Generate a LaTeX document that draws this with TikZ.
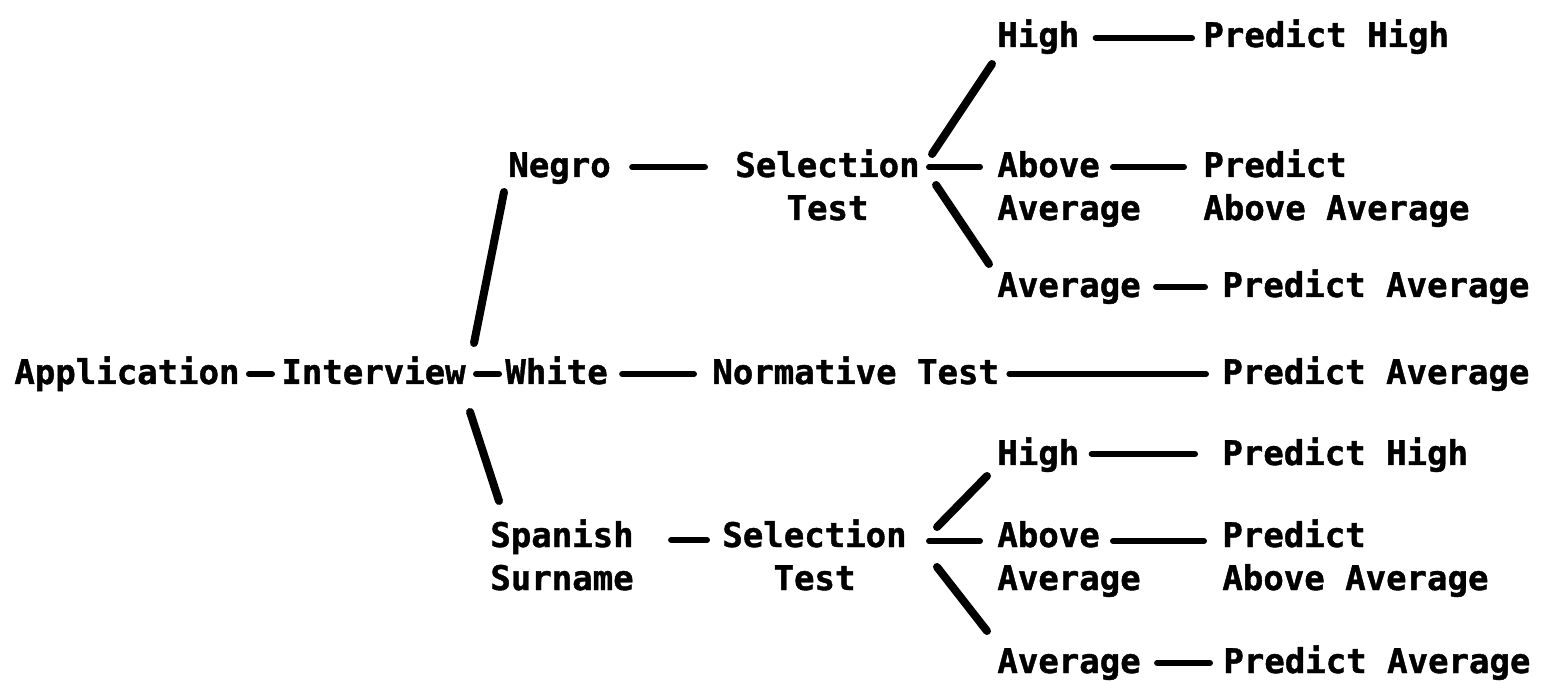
\documentclass[tikz,border=0pt]{standalone}
\usepackage{fontspec}
\newfontfamily\scanfont{DejaVu Sans Mono}[BoldFeatures={FakeBold=1.2}]
\usepackage{tikz}

\begin{document}
\begin{tikzpicture}[x=0.5pt, y=-0.5pt,
  every node/.style={inner sep=0pt, anchor=base west},
  lbl/.style={font=\scanfont\bfseries\fontsize{17pt}{21.5pt}\selectfont},
  twoline/.style={lbl, align=left},
  joinline/.style={line width=3pt, line cap=round},
  branchline/.style={line width=4pt, line cap=round}]
\fill[white] (0,0) rectangle (1543,684);
% main row
\node[lbl] (Napp)  at (14,384)  {Application};
\node[lbl] (Nint)  at (281,384) {Interview};
\node[lbl] (Nwhite) at (505,384) {White};
\node[lbl] (Nnorm) at (712,384) {Normative Test};
\node[lbl] (Npm)   at (1222,384) {Predict Average};
% upper branch (two-line nodes sit on their last line)
\node[lbl] (Nnegro) at (508,177) {Negro};
\node[lbl, align=center] (Nselu) at (735,220) {Selection\\Test};
\node[lbl] (Nhighu) at (997,47) {High};
\node[twoline] (Nabu) at (997,220) {Above\\Average};
\node[lbl] (Navu) at (997,297) {Average};
\node[lbl] (Nphu) at (1203,47) {Predict High};
\node[twoline] (Npabu) at (1203,220) {Predict\\Above Average};
\node[lbl] (Npavu) at (1222,297) {Predict Average};
% lower branch
\node[twoline] (Nspan) at (490,590) {Spanish\\Surname};
\node[lbl, align=center] (Nsell) at (722,590) {Selection\\Test};
\node[lbl] (Nhighl) at (997,465) {High};
\node[twoline] (Nabl) at (997,590) {Above\\Average};
\node[lbl] (Navl) at (997,673) {Average};
\node[lbl] (Nphl) at (1222,465) {Predict High};
\node[twoline] (Npabl) at (1222,590) {Predict\\Above Average};
\node[lbl] (Npavl) at (1223,673) {Predict Average};

% connectors on the main row
\draw[joinline] ([xshift=4.5pt,yshift=5pt]Napp.base east) -- ([xshift=-4.5pt,yshift=5pt]Nint.base west);
\draw[joinline] ([xshift=5pt,yshift=5pt]Nint.base east) -- ([xshift=-3pt,yshift=5pt]Nwhite.base west);
\draw[joinline] ([xshift=7pt,yshift=5pt]Nwhite.base east) -- ([xshift=-9pt,yshift=5pt]Nnorm.base west);
\draw[joinline] ([xshift=5pt,yshift=5pt]Nnorm.base east) -- ([xshift=-8pt,yshift=5pt]Npm.base west);
\draw[branchline] ([xshift=4pt,yshift=20.5pt]Nint.base east) -- ([xshift=-2pt,yshift=-7.5pt]Nnegro.base west);
\draw[branchline] ([xshift=2pt,yshift=-14pt]Nint.base east) -- ([xshift=4.5pt,yshift=44.5pt]Nspan.base west);

% upper branch
\draw[joinline] ([xshift=10.5pt,yshift=5pt]Nnegro.base east) -- ([xshift=-15pt,yshift=26.5pt]Nselu.base west);
\draw[branchline] ([xshift=6pt,yshift=33pt]Nselu.base east) -- ([xshift=-2.5pt,yshift=-8.5pt]Nhighu.base west);
\draw[joinline] ([xshift=4.5pt,yshift=26.5pt]Nselu.base east) -- ([xshift=-8.5pt,yshift=26.5pt]Nabu.base west);
\draw[branchline] ([xshift=8pt,yshift=17.5pt]Nselu.base east) -- ([xshift=-4pt,yshift=16.5pt]Navu.base west);
\draw[joinline] ([xshift=8pt,yshift=4.5pt]Nhighu.base east) -- ([xshift=-5.5pt,yshift=4.5pt]Nphu.base west);
\draw[joinline] ([xshift=58pt,yshift=26.5pt]Nabu.base west) -- ([xshift=-9.5pt,yshift=26.5pt]Npabu.base west);
\draw[joinline] ([xshift=7.5pt,yshift=5pt]Navu.base east) -- ([xshift=-8.5pt,yshift=5pt]Npavu.base west);

% lower branch
\draw[joinline] ([xshift=18.5pt,yshift=25pt]Nspan.base east) -- ([xshift=-7.5pt,yshift=25pt]Nsell.base west);
\draw[branchline] ([xshift=15pt,yshift=31.5pt]Nsell.base east) -- ([xshift=-5pt,yshift=-5.5pt]Nhighl.base west);
\draw[joinline] ([xshift=11pt,yshift=24.5pt]Nsell.base east) -- ([xshift=-8.5pt,yshift=24.5pt]Nabl.base west);
\draw[branchline] ([xshift=15pt,yshift=11.5pt]Nsell.base east) -- ([xshift=-5pt,yshift=21pt]Navl.base west);
\draw[joinline] ([xshift=6pt,yshift=5.5pt]Nhighl.base east) -- ([xshift=-13.5pt,yshift=5.5pt]Nphl.base west);
\draw[joinline] ([xshift=58pt,yshift=24.5pt]Nabl.base west) -- ([xshift=-9pt,yshift=24.5pt]Npabl.base west);
\draw[joinline] ([xshift=8pt,yshift=5pt]Navl.base east) -- ([xshift=-6.5pt,yshift=5pt]Npavl.base west);
\end{tikzpicture}
\end{document}
